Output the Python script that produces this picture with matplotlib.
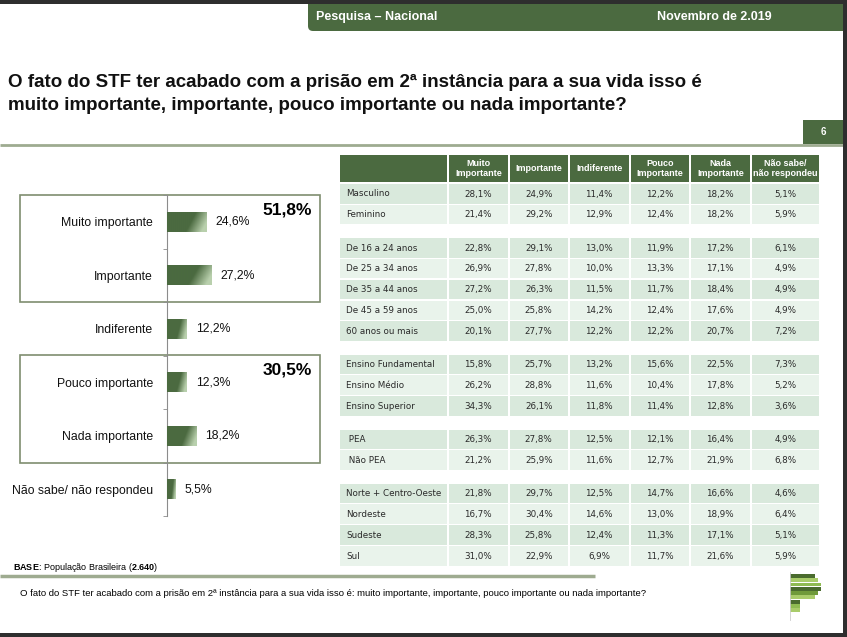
import matplotlib.pyplot as plt
import numpy as np
from matplotlib.patches import Rectangle, FancyBboxPatch
from matplotlib.colors import to_rgb

plt.rcParams["font.family"] = ["Liberation Sans", "DejaVu Sans"]
plt.rcParams["mathtext.fontset"] = "custom"
plt.rcParams["mathtext.rm"] = "Liberation Sans"
plt.rcParams["mathtext.bf"] = "Liberation Sans:bold"

# grafico da esquerda
categorias = ["Muito importante", "Importante", "Indiferente",
              "Pouco importante", "Nada importante", "Não sabe/ não respondeu"]
valores = [24.6, 27.2, 12.2, 12.3, 18.2, 5.5]
soma_importante = "51,8%"
soma_pouco = "30,5%"

# tabela da direita
colunas = ["Muito\nImportante", "Importante", "Indiferente",
           "Pouco\nImportante", "Nada\nImportante", "Não sabe/\nnão respondeu"]

linhas_sexo = ["Masculino", "Feminino"]
valores_sexo = [[28.1, 24.9, 11.4, 12.2, 18.2, 5.1],
                [21.4, 29.2, 12.9, 12.4, 18.2, 5.9]]

linhas_idade = ["De 16 a 24 anos", "De 25 a 34 anos", "De 35 a 44 anos",
                "De 45 a 59 anos", "60 anos ou mais"]
valores_idade = [[22.8, 29.1, 13.0, 11.9, 17.2, 6.1],
                 [26.9, 27.8, 10.0, 13.3, 17.1, 4.9],
                 [27.2, 26.3, 11.5, 11.7, 18.4, 4.9],
                 [25.0, 25.8, 14.2, 12.4, 17.6, 4.9],
                 [20.1, 27.7, 12.2, 12.2, 20.7, 7.2]]

linhas_escola = ["Ensino Fundamental", "Ensino Médio", "Ensino Superior"]
valores_escola = [[15.8, 25.7, 13.2, 15.6, 22.5, 7.3],
                  [26.2, 28.8, 11.6, 10.4, 17.8, 5.2],
                  [34.3, 26.1, 11.8, 11.4, 12.8, 3.6]]

linhas_pea = [" PEA", " Não PEA"]
valores_pea = [[26.3, 27.8, 12.5, 12.1, 16.4, 4.9],
               [21.2, 25.9, 11.6, 12.7, 21.9, 6.8]]

linhas_regiao = ["Norte + Centro-Oeste", "Nordeste", "Sudeste", "Sul"]
valores_regiao = [[21.8, 29.7, 12.5, 14.7, 16.6, 4.6],
                  [16.7, 30.4, 14.6, 13.0, 18.9, 6.4],
                  [28.3, 25.8, 12.4, 11.3, 17.1, 5.1],
                  [31.0, 22.9, 6.9, 11.7, 21.6, 5.9]]

verde = "#4b6a40"
verde_claro = "#b9d0ad"
linha_cinza = "#9eab90"
fundo_a = "#d9e9dc"
fundo_b = "#e9f3eb"


def pct(v):
    return f"{v:.1f}%".replace(".", ",")


W, H = 847, 637
fig = plt.figure(figsize=(W / 100, H / 100), dpi=100)
bg = fig.add_axes([0, 0, 1, 1])
bg.set_xlim(0, W)
bg.set_ylim(H, 0)
bg.axis("off")

# moldura escura
bg.add_patch(Rectangle((0, 0), W, 4, color="#2e2e2e", lw=0, zorder=5))
bg.add_patch(Rectangle((843, 0), 4, H, color="#2e2e2e", lw=0, zorder=5))
bg.add_patch(Rectangle((0, 633), W, 4, color="#2e2e2e", lw=0, zorder=5))

# faixa do topo
bg.add_patch(FancyBboxPatch((308, -20), 560, 51, boxstyle="round,pad=0,rounding_size=5",
                            fc=verde, ec="none", zorder=2))
bg.text(316, 17, "Pesquisa – Nacional", color="white", fontsize=9, fontweight="bold",
        family=["Liberation Sans Narrow", "Liberation Sans"], va="center", zorder=3)
bg.text(657, 17, "Novembro de 2.019", color="white", fontsize=9, fontweight="bold",
        family=["Liberation Sans Narrow", "Liberation Sans"], va="center", zorder=3)

# titulo
bg.text(8, 82, "O fato do STF ter acabado com a prisão em 2ª instância para a sua vida isso é",
        fontsize=13.5, fontweight="bold", color="#111111", va="center")
bg.text(8, 106, "muito importante, importante, pouco importante ou nada importante?",
        fontsize=13.5, fontweight="bold", color="#111111", va="center")

# numero da pagina e linha
bg.plot([0, 843], [145, 145], color=linha_cinza, lw=2, solid_capstyle="butt")
bg.add_patch(Rectangle((803, 120), 40, 24, color=verde, lw=0, zorder=3))
bg.text(823, 132, "6", color="white", fontsize=7, fontweight="bold", ha="center", va="center", zorder=4)

# caixas dos agrupamentos
bg.add_patch(Rectangle((20, 195), 300, 107, fill=False, ec="#7f8e70", lw=1.2))
bg.add_patch(Rectangle((20, 355), 300, 108, fill=False, ec="#7f8e70", lw=1.2))
bg.text(312, 210, soma_importante, fontsize=12.5, fontweight="bold", ha="right", va="center")
bg.text(312, 370, soma_pouco, fontsize=12.5, fontweight="bold", ha="right", va="center")

# grafico de barras
ax = fig.add_axes([167 / W, (H - 516) / H, 162 / W, 321 / H])
ax.set_facecolor("none")
pos = np.arange(len(categorias))
barras = ax.barh(pos, valores, height=0.37, color=verde)
ax.set_yticks(pos)
ax.set_yticklabels(categorias, fontsize=8.8, color="#111111")
ax.set_yticks(np.arange(len(categorias) + 1) - 0.5, minor=True)
ax.tick_params(axis="y", which="major", length=0, pad=10)
ax.tick_params(axis="y", which="minor", length=3, color="#8c8c8c")
ax.set_xticks([])
for s in ["top", "right", "bottom"]:
    ax.spines[s].set_visible(False)
ax.spines["left"].set_color("#8c8c8c")

# degradê nas barras
c0 = np.array(to_rgb(verde))
c1 = np.array(to_rgb(verde_claro))
u, v = np.meshgrid(np.linspace(0, 1, 60), np.linspace(0, 1, 20))
t = np.clip((u - 0.6 + 0.25 * (v - 0.5)) / 0.4, 0, 1)
img = c0 + t[..., None] * (c1 - c0)
for b, val in zip(barras, valores):
    x0, y0 = b.get_x(), b.get_y()
    im = ax.imshow(img, extent=[x0, x0 + b.get_width(), y0 + b.get_height(), y0],
                   aspect="auto", zorder=3)
    im.set_clip_path(b)
    ax.text(val + 5.5, b.get_y() + b.get_height() / 2, pct(val), fontsize=8.8,
            va="center", color="#111111")
ax.set_xlim(0, 100)
ax.set_ylim(len(categorias) - 0.5, -0.5)

# tabela
x_bordas = [339, 448, 508.5, 569, 629.5, 690, 750.5, 820]
bg.add_patch(Rectangle((x_bordas[0] + 1, 155), x_bordas[1] - x_bordas[0] - 2, 27, color=verde, lw=0))
for j, nome in enumerate(colunas):
    xa, xb = x_bordas[j + 1], x_bordas[j + 2]
    bg.add_patch(Rectangle((xa + 1, 155), xb - xa - 2, 27, color=verde, lw=0))
    bg.text((xa + xb) / 2, 168.5, nome, color="white", fontsize=6.5, fontweight="bold",
            ha="center", va="center", linespacing=1.05)

grupos = [(linhas_sexo, valores_sexo), (linhas_idade, valores_idade),
          (linhas_escola, valores_escola), (linhas_pea, valores_pea),
          (linhas_regiao, valores_regiao)]
y = 184
for linhas, vals in grupos:
    for i, (nome, linha) in enumerate(zip(linhas, vals)):
        cor = fundo_a if i % 2 == 0 else fundo_b
        for j in range(len(x_bordas) - 1):
            xa, xb = x_bordas[j], x_bordas[j + 1]
            bg.add_patch(Rectangle((xa + 1, y), xb - xa - 2, 19.5, color=cor, lw=0))
        bg.text(346, y + 10, nome, fontsize=6.3, family="DejaVu Sans", color="#2a2a2a", va="center")
        for j, v in enumerate(linha):
            bg.text((x_bordas[j + 1] + x_bordas[j + 2]) / 2, y + 10, pct(v), fontsize=6.3,
                    family="DejaVu Sans", color="#2a2a2a", ha="center", va="center")
        y += 20.8
    y += 12.5

# rodape
bg.text(13, 567, r"$\mathbf{BASE}$: População Brasileira ($\mathbf{2.640}$)", fontsize=6.5, va="center")
bg.plot([0, 595], [576, 576], color=linha_cinza, lw=2.5, solid_capstyle="butt")
bg.text(20, 594, "O fato do STF ter acabado com a prisão em 2ª instância para a sua vida isso é: "
        "muito importante, importante, pouco importante ou nada importante?", fontsize=6.8, va="center")

# logotipo
faixas = [(574, 25, "#4a6b2e"), (578, 28, "#a9cc6a"), (582.5, 31, "#8fbb52"), (587, 31, "#4a6b2e"),
          (591, 28, "#6f9a3a"), (595, 25, "#a9cc6a"), (600, 10, "#4a6b2e"), (604, 10, "#8fbb52"),
          (608, 10, "#a9cc6a")]
for yy, ww, cc in faixas:
    bg.add_patch(Rectangle((790, yy), ww, 3.5, color=cc, lw=0))
bg.plot([790, 790], [572, 620], color="#cccccc", lw=0.6)

fig.savefig("out.png", dpi=100)
